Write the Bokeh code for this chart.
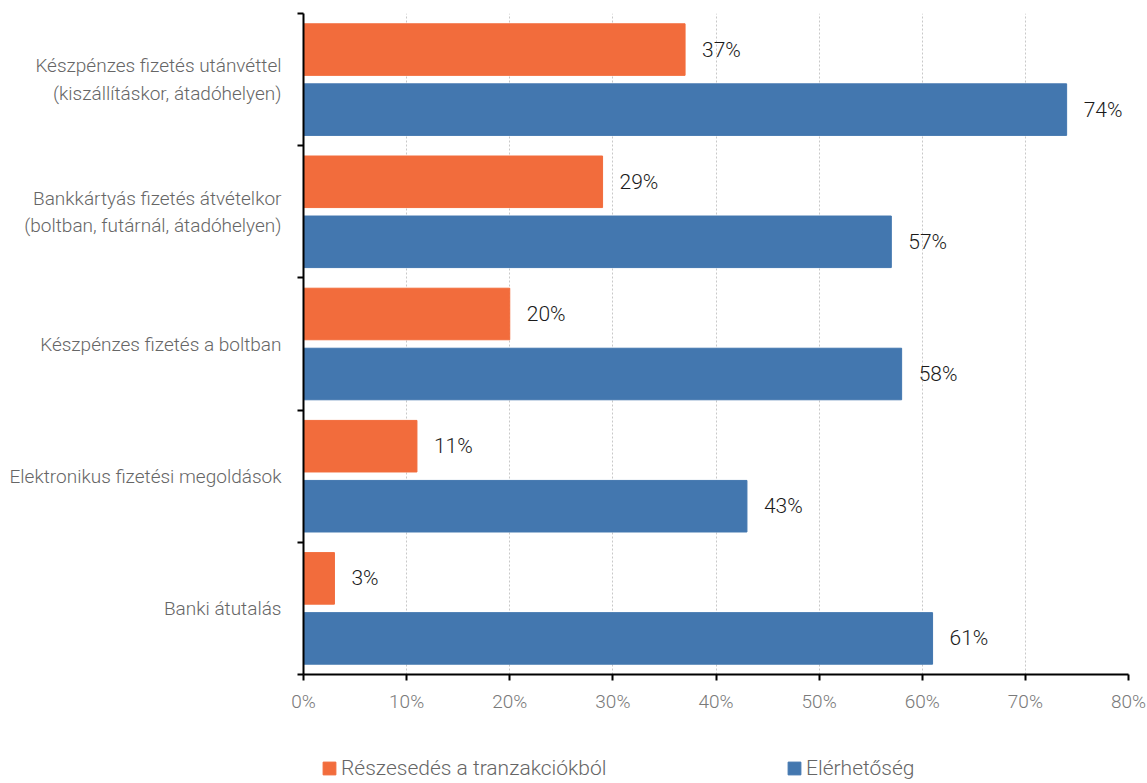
from bokeh.plotting import figure
from bokeh.layouts import column
from bokeh.models import Range1d, FixedTicker, Legend, LegendItem, ColumnDataSource
from bokeh.core.properties import value
from bokeh.embed import file_html
from bokeh.resources import INLINE

categories = [
    "Készpénzes fizetés utánvéttel\n(kiszállításkor, átadóhelyen)",
    "Bankkártyás fizetés átvételkor\n(boltban, futárnál, átadóhelyen)",
    "Készpénzes fizetés a boltban",
    "Elektronikus fizetési megoldások",
    "Banki átutalás",
]
share = [37, 29, 20, 11, 3]
availability = [74, 57, 58, 43, 61]
series_names = ["Részesedés a tranzakciókból", "Elérhetőség"]
x_ticks = [0, 10, 20, 30, 40, 50, 60, 70, 80]

FONT = "Roboto Light"
ORANGE = "#F26C3C"
BLUE = "#4377AF"

W = 1147
H_MAIN = 740
H_LEG = 43

n = len(categories)
centers = [n - i - 0.5 for i in range(n)]
off = 0.227
bar_h = 0.39

p = figure(width=W, height=H_MAIN, output_backend="svg", toolbar_location=None,
           x_range=Range1d(0, 80), y_range=Range1d(0, n),
           min_border_left=303, min_border_right=19, min_border_top=13, min_border_bottom=66)
p.outline_line_color = None
p.background_fill_color = "white"

src_a = ColumnDataSource(dict(y=[c + off for c in centers], v=share,
                              lab=[f"{v}%" for v in share]))
src_b = ColumnDataSource(dict(y=[c - off for c in centers], v=availability,
                              lab=[f"{v}%" for v in availability]))

p.hbar(y="y", left=0, right="v", height=bar_h, color=ORANGE, source=src_a)
p.hbar(y="y", left=0, right="v", height=bar_h, color=BLUE, source=src_b)

for src in (src_a, src_b):
    p.text(x="v", y="y", text="lab", source=src, x_offset=17, text_baseline="middle",
           text_align="left", text_font=value(FONT), text_font_size="21px", text_color="#1a1a1a")

# x axis
xa = p.xaxis[0]
xa.ticker = FixedTicker(ticks=x_ticks)
xa.major_label_overrides = {t: f"{t}%" for t in x_ticks}
xa.axis_line_width = 2
xa.axis_line_color = "black"
xa.major_tick_line_color = "black"
xa.major_tick_line_width = 2
xa.major_tick_out = 6
xa.major_tick_in = 0
xa.minor_tick_line_color = None
xa.major_label_text_font = FONT
xa.major_label_text_font_size = "19px"
xa.major_label_text_color = "#7a7a7a"
xa.major_label_standoff = 9

# y axis
ya = p.yaxis[0]
ya.ticker = FixedTicker(ticks=centers, minor_ticks=list(range(n + 1)))
ya.major_label_overrides = {c: categories[i] for i, c in enumerate(centers)}
ya.axis_line_width = 2
ya.axis_line_color = "black"
ya.major_tick_line_color = None
ya.major_tick_out = 0
ya.major_tick_in = 0
ya.minor_tick_line_color = "black"
ya.minor_tick_line_width = 2
ya.minor_tick_out = 6
ya.minor_tick_in = 0
ya.major_label_text_font = FONT
ya.major_label_text_font_size = "19px"
ya.major_label_text_color = "#666666"
ya.major_label_standoff = 16

p.xgrid.ticker = FixedTicker(ticks=x_ticks[1:])
p.xgrid.grid_line_color = "#c8c8c8"
p.xgrid.grid_line_dash = "2 2"
p.ygrid.grid_line_color = None

# legend strip below the chart (its bars lie outside its own range, only the legend shows)
pl = figure(width=W, height=H_LEG, output_backend="svg", toolbar_location=None,
            x_range=Range1d(0, 1), y_range=Range1d(100, 101), x_axis_type=None, y_axis_type=None,
            min_border_left=0, min_border_right=0, min_border_top=0, min_border_bottom=0)
pl.outline_line_color = None
pl.xgrid.grid_line_color = None
pl.ygrid.grid_line_color = None
la = pl.hbar(y="y", left=0, right="v", height=bar_h, color=ORANGE, source=src_a)
lb = pl.hbar(y="y", left=0, right="v", height=bar_h, color=BLUE, source=src_b)

for r, name, x in ((la, series_names[0], 18), (lb, series_names[1], 483)):
    lg = Legend(items=[LegendItem(label=name, renderers=[r])],
                orientation="horizontal", location=(x, 3),
                glyph_width=16, glyph_height=16, label_standoff=4,
                spacing=0, padding=0, margin=0,
                label_text_font=FONT, label_text_font_size="21px", label_text_color="#666666",
                border_line_color=None, background_fill_alpha=0)
    pl.add_layout(lg, "center")

layout = column(p, pl, spacing=0)
open("out.html", "w").write(file_html(layout, INLINE))
